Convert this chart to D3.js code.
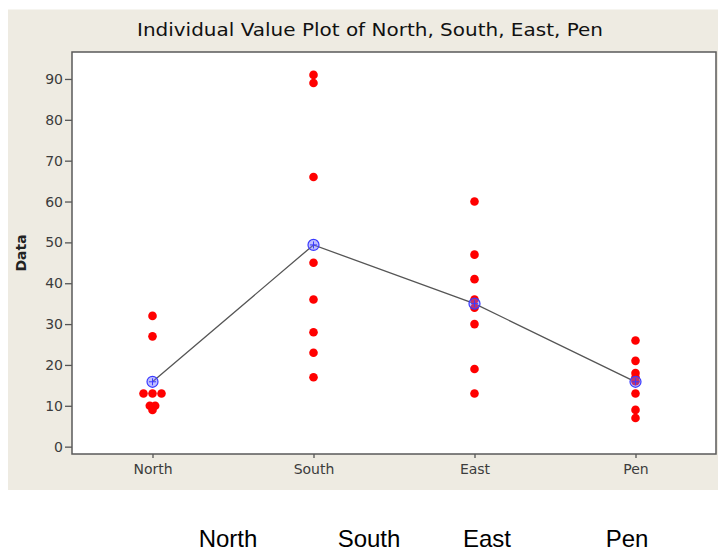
<!DOCTYPE html>
<html>
<head>
<meta charset="utf-8">
<script src="https://cdn.jsdelivr.net/npm/d3@7/dist/d3.min.js"></script>
<style>
html,body{margin:0;padding:0;background:#fff;}
svg{display:block;}
</style>
</head>
<body>
<svg id="chart" width="718" height="551"></svg>
<script>
// ---- data ----
const categories = ["North", "South", "East", "Pen"];
const northValues = [32, 27, 13, 13, 13, 10, 10, 9];
const southValues = [91, 89, 66, 45, 36, 28, 23, 17];
const eastValues  = [60, 47, 41, 36, 34, 30, 19, 13];
const penValues   = [26, 21, 18, 17, 16, 13, 9, 7];
const yTicks = [0, 10, 20, 30, 40, 50, 60, 70, 80, 90];
const titleText = "Individual Value Plot of North, South, East, Pen";
const yLabel = "Data";
const bottomLabels = ["North", "South", "East", "Pen"];

const seriesValues = [northValues, southValues, eastValues, penValues];

// ---- layout ----
const panel = {x: 8, y: 9.5, w: 720, h: 480.5};
const frame = {left: 72, top: 52, right: 716, bottom: 454};

const svg = d3.select("#chart");

svg.append("rect").attr("x", panel.x).attr("y", panel.y)
  .attr("width", panel.w).attr("height", panel.h).attr("fill", "#eeebe2");

svg.append("rect").attr("x", frame.left).attr("y", frame.top)
  .attr("width", frame.right - frame.left).attr("height", frame.bottom - frame.top)
  .attr("fill", "#ffffff");

const x = d3.scalePoint().domain(categories)
  .range([frame.left, frame.right]).padding(0.5);
const y = d3.scaleLinear().domain([-1.8, 96.6])
  .range([frame.bottom, frame.top]);

// title
svg.append("text").attr("x", 370).attr("y", 36)
  .attr("text-anchor", "middle")
  .attr("font-family", "DejaVu Sans, Verdana, sans-serif")
  .attr("font-size", 17.5).attr("fill", "#111")
  .attr("textLength", 466).attr("lengthAdjust", "spacingAndGlyphs")
  .text(titleText);

// y axis
const yAxis = d3.axisLeft(y).tickValues(yTicks).tickSize(7).tickPadding(2);
const gy = svg.append("g").attr("transform", `translate(${frame.left},0)`).call(yAxis);
gy.select(".domain").remove();
gy.selectAll(".tick line").attr("stroke", "#555").attr("stroke-width", 1.3);
gy.selectAll(".tick text").attr("font-family", "DejaVu Sans, Verdana, sans-serif")
  .attr("font-size", 14).attr("fill", "#3c3c3c");

// x axis
const xAxis = d3.axisBottom(x).tickSize(4).tickPadding(6);
const gx = svg.append("g").attr("transform", `translate(0,${frame.bottom})`).call(xAxis);
gx.select(".domain").remove();
gx.selectAll(".tick line").attr("stroke", "#555").attr("stroke-width", 1.3);
gx.selectAll(".tick text").attr("font-family", "DejaVu Sans, Verdana, sans-serif")
  .attr("font-size", 14).attr("fill", "#3c3c3c");

// frame border
svg.append("rect").attr("x", frame.left).attr("y", frame.top)
  .attr("width", frame.right - frame.left).attr("height", frame.bottom - frame.top)
  .attr("fill", "none").attr("stroke", "#5a5a5a").attr("stroke-width", 1.5);

// y label
svg.append("text")
  .attr("transform", `translate(26,${(frame.top + frame.bottom) / 2}) rotate(-90)`)
  .attr("text-anchor", "middle")
  .attr("font-family", "DejaVu Sans, Verdana, sans-serif")
  .attr("font-weight", "bold").attr("font-size", 14).attr("fill", "#222")
  .text(yLabel);

// points with dodge for duplicates
const dodge = 9;
const pts = [];
seriesValues.forEach((vals, i) => {
  const counts = d3.rollup(vals, v => v.length, v => v);
  const seen = new Map();
  vals.forEach(v => {
    const n = counts.get(v);
    const k = seen.get(v) || 0;
    seen.set(v, k + 1);
    pts.push({cat: categories[i], v, off: (k - (n - 1) / 2) * (n === 2 ? dodge * 0.6 : dodge)});
  });
});

const means = categories.map((c, i) => ({cat: c, v: d3.mean(seriesValues[i])}));

// mean connect line
svg.append("path").datum(means)
  .attr("d", d3.line().x(d => x(d.cat)).y(d => y(d.v)))
  .attr("fill", "none").attr("stroke", "#555").attr("stroke-width", 1.3);

svg.append("g").selectAll("circle").data(pts).join("circle")
  .attr("cx", d => x(d.cat) + d.off).attr("cy", d => y(d.v))
  .attr("r", 4.3).attr("fill", "#ff0000");

// mean symbols
const mg = svg.append("g").selectAll("g").data(means).join("g")
  .attr("transform", d => `translate(${x(d.cat)},${y(d.v)})`);
mg.append("circle").attr("r", 5.5).attr("fill", "rgba(110,110,255,0.45)")
  .attr("stroke", "#3a3aff").attr("stroke-width", 1.2);
mg.append("path").attr("d", "M-3.5,0H3.5M0,-3.5V3.5")
  .attr("stroke", "#3a3aff").attr("stroke-width", 1);

// bottom labels
const bx = d3.scaleOrdinal().domain(bottomLabels).range([228, 369, 487, 627]);
svg.append("g").selectAll("text").data(bottomLabels).join("text")
  .attr("x", d => bx(d)).attr("y", 547)
  .attr("text-anchor", "middle")
  .attr("font-family", "Liberation Sans, Arial, sans-serif")
  .attr("font-size", 24).attr("fill", "#000")
  .text(d => d);
</script>
</body>
</html>
